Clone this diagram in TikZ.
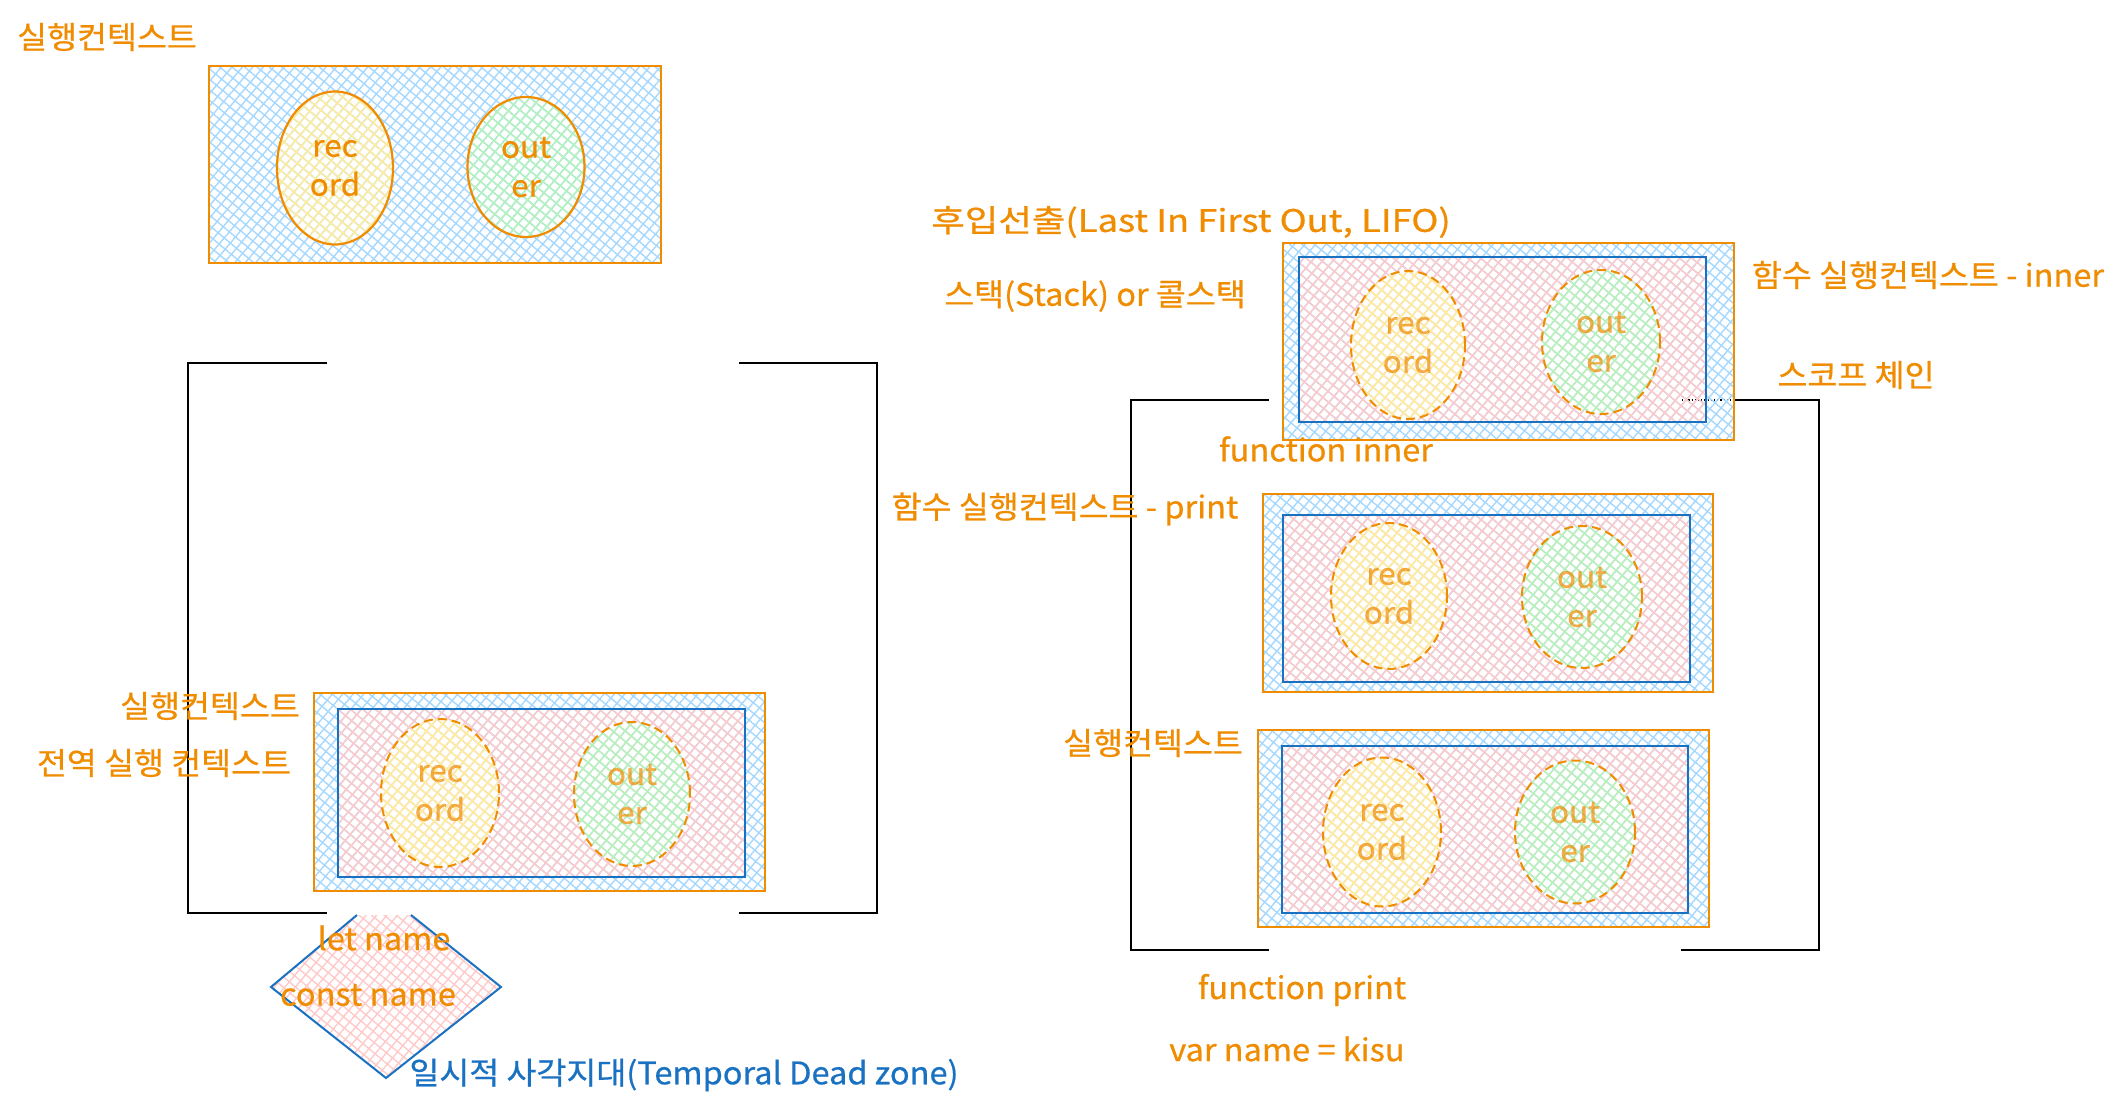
\documentclass[tikz,border=0pt]{standalone}
\usepackage{fontspec}
\setmainfont{Noto Sans CJK KR}[FakeStretch=1.05, FakeBold=0.6]
\usetikzlibrary{patterns.meta,shapes.geometric}
\definecolor{exorange}{HTML}{F08C00}
\definecolor{exblue}{HTML}{1971C2}
\definecolor{hblue}{HTML}{A5D8FF}
\definecolor{hpink}{HTML}{FFC9C9}
\definecolor{hyellow}{HTML}{FFEC99}
\definecolor{hgreen}{HTML}{B2F2BB}
\tikzset{
  xh/.style={
    preaction={pattern={Lines[angle=50,distance=8pt,line width=1.4pt]},pattern color=#1},
    preaction={pattern={Lines[angle=-40,distance=8pt,line width=1.4pt]},pattern color=#1}},
  brk/.style={draw=black, line width=1.8pt},
  obox/.style={rectangle, draw=exorange, line width=2pt, xh=hblue, inner sep=0pt},
  ibox/.style={rectangle, draw=exblue, line width=2pt, xh=hpink, inner sep=0pt},
  ellsolid/.style={ellipse, draw=exorange, line width=2.2pt, xh=#1, inner sep=0pt,
    text=exorange, align=center, font=\fontsize{30}{39}\selectfont},
  elldash/.style={ellipse, draw=exorange, line width=2pt, dash pattern=on 9pt off 5pt,
    preaction={fill=white, fill opacity=0.3}, xh=#1, inner sep=0pt,
    text=exorange, text opacity=0.7, align=center, font=\fontsize{30}{39}\selectfont},
  lbl/.style={text=exorange, font=\fontsize{31}{36}\selectfont, inner sep=0pt},
}
\begin{document}
\begin{tikzpicture}[x=1pt,y=-1pt]
\useasboundingbox[fill=white] (0,0) rectangle (2126,1115);

% ---------- brackets (stacks) ----------
\draw[brk] (327,363) -- (188,363) -- (188,913) -- (327,913);
\draw[brk] (739,363) -- (877,363) -- (877,913) -- (739,913);
\draw[brk] (1269,400) -- (1131,400) -- (1131,950) -- (1269,950);
\draw[brk] (1734,400) -- (1819,400) -- (1819,950) -- (1681,950);
\draw[black, line width=1.2pt, dotted] (1682,400) -- (1734,400);

% ---------- top standalone context ----------
\node[lbl] (tTitle) at (107,37) {실행컨텍스트};
\node[obox, minimum width=452pt, minimum height=197pt] (ctxTop) at (435,164.5) {};
\node[ellsolid=hyellow, minimum width=116pt, minimum height=153pt] (recTop) at (335,168) {rec\\ord};
\node[ellsolid=hgreen, minimum width=117pt, minimum height=140pt] (outTop) at (526,167) {out\\er};

% ---------- global context ----------
\node[obox, minimum width=451pt, minimum height=198pt] (gOuter) at (539.5,792) {};
\node[ibox, minimum width=407pt, minimum height=168pt] (gInner) at (541.5,793) {};
\node[elldash=hyellow, minimum width=118pt, minimum height=148pt] (gRec) at (440,793) {rec\\ord};
\node[elldash=hgreen, minimum width=116pt, minimum height=144pt] (gOut) at (632,794) {out\\er};
\node[lbl] (gL1) at (210,706) {실행컨텍스트};
\node[lbl] (gL2) at (164,763) {전역 실행 컨텍스트};

% ---------- TDZ diamond ----------
\draw[exblue, line width=2pt, xh=hpink] (357,915) -- (271,987) -- (386,1078) -- (501,987) -- (411,915);
\node[lbl] (letN) at (384,938) {let name};
\node[lbl] (constN) at (368,995) {const name};
\node[lbl, text=exblue] (tdz) at (684,1075) {일시적 사각지대(Temporal Dead zone)};

% ---------- function inner context ----------
\node[obox, minimum width=451pt, minimum height=197pt] (iOuter) at (1508.5,341.5) {};
\node[ibox, minimum width=407pt, minimum height=165pt] (iInner) at (1502.5,339.5) {};
\node[elldash=hyellow, minimum width=114pt, minimum height=148pt] (iRec) at (1408,345) {rec\\ord};
\node[elldash=hgreen, minimum width=118pt, minimum height=144pt] (iOut) at (1601,342) {out\\er};

% ---------- function print context ----------
\node[obox, minimum width=450pt, minimum height=198pt] (pOuter) at (1488,593) {};
\node[ibox, minimum width=407pt, minimum height=167pt] (pInner) at (1486.5,598.5) {};
\node[elldash=hyellow, minimum width=116pt, minimum height=146pt] (pRec) at (1389,596) {rec\\ord};
\node[elldash=hgreen, minimum width=120pt, minimum height=142pt] (pOut) at (1582,597) {out\\er};

% ---------- bottom context in right stack ----------
\node[obox, minimum width=451pt, minimum height=197pt] (bOuter) at (1483.5,828.5) {};
\node[ibox, minimum width=406pt, minimum height=167pt] (bInner) at (1485,829.5) {};
\node[elldash=hyellow, minimum width=118pt, minimum height=149pt] (bRec) at (1382,832) {rec\\ord};
\node[elldash=hgreen, minimum width=120pt, minimum height=143pt] (bOut) at (1575,832) {out\\er};

% ---------- right-side labels ----------
\node[lbl] (lifo) at (1191,222) {\scalebox{1.12}[1]{후입선출(Last In First Out, LIFO)}};
\node[lbl] (stack) at (1095,296) {스택(Stack) or 콜스택};
\node[lbl] (fnInnerL) at (1928,275) {함수 실행컨텍스트 - inner};
\node[lbl] (scope) at (1856,375) {스코프 체인};
\node[lbl] (fInner) at (1326,449) {function inner};
\node[lbl] (fnPrintL) at (1065,509) {함수 실행컨텍스트 - print};
\node[lbl] (bL) at (1153,743) {실행컨텍스트};
\node[lbl] (fPrint) at (1302,990) {function print};
\node[lbl] (varN) at (1287,1049) {var name = kisu};
\end{tikzpicture}
\end{document}
